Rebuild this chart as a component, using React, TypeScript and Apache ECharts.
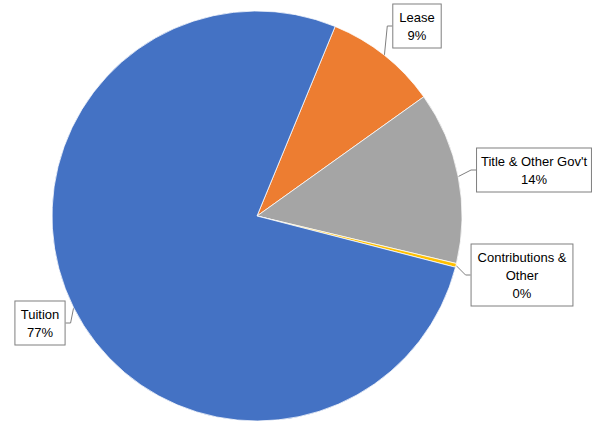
import React, { useEffect, useRef } from "react";
import * as echarts from "echarts";

const categories = ["Lease", "Title & Other Gov't", "Contributions & Other", "Tuition"];
const labelNames = ["Lease", "Title & Other Gov't", "Contributions &\nOther", "Tuition"];
const values = [8.9, 13.6, 0.3, 77.2];
const colors = ["#ED7D31", "#A5A5A5", "#FFC000", "#4472C4"];
const labelPos = [
  [417, 26],
  [534, 170],
  [522, 275],
  [40, 323],
];

export default function App() {
  const ref = useRef<HTMLDivElement>(null);
  useEffect(() => {
    document.body.style.margin = "0";
    const chart = echarts.init(ref.current!, null, { renderer: "svg" });
    chart.setOption({
      animation: false,
      backgroundColor: "#ffffff",
      series: [
        {
          type: "pie",
          center: [257, 216],
          radius: 205,
          startAngle: 67.6,
          clockwise: true,
          percentPrecision: 0,
          itemStyle: { borderColor: "#ffffff", borderWidth: 0.75 },
          label: {
            show: true,
            position: "outside",
            overflow: "none",
            formatter: (p: any) => labelNames[p.dataIndex] + "\n" + p.percent + "%",
            fontFamily: "'Liberation Sans', Arial, sans-serif",
            fontSize: 13,
            lineHeight: 18,
            color: "#000000",
            align: "center",
            backgroundColor: "#ffffff",
            borderColor: "#7f7f7f",
            borderWidth: 1,
            padding: [4, 6, 3, 6],
          },
          labelLine: {
            show: true,
            length: 5,
            length2: 5,
            lineStyle: { color: "#7f7f7f", width: 1 },
          },
          labelLayout: (params: any) => {
            const pos = labelPos[params.dataIndex];
            return { x: pos[0], y: pos[1], align: "center", verticalAlign: "middle" };
          },
          data: categories.map((c, i) => ({
            name: c,
            value: values[i],
            itemStyle: { color: colors[i] },
          })),
        },
      ],
    });
    return () => chart.dispose();
  }, []);
  return <div ref={ref} style={{ width: 597, height: 422 }} />;
}
